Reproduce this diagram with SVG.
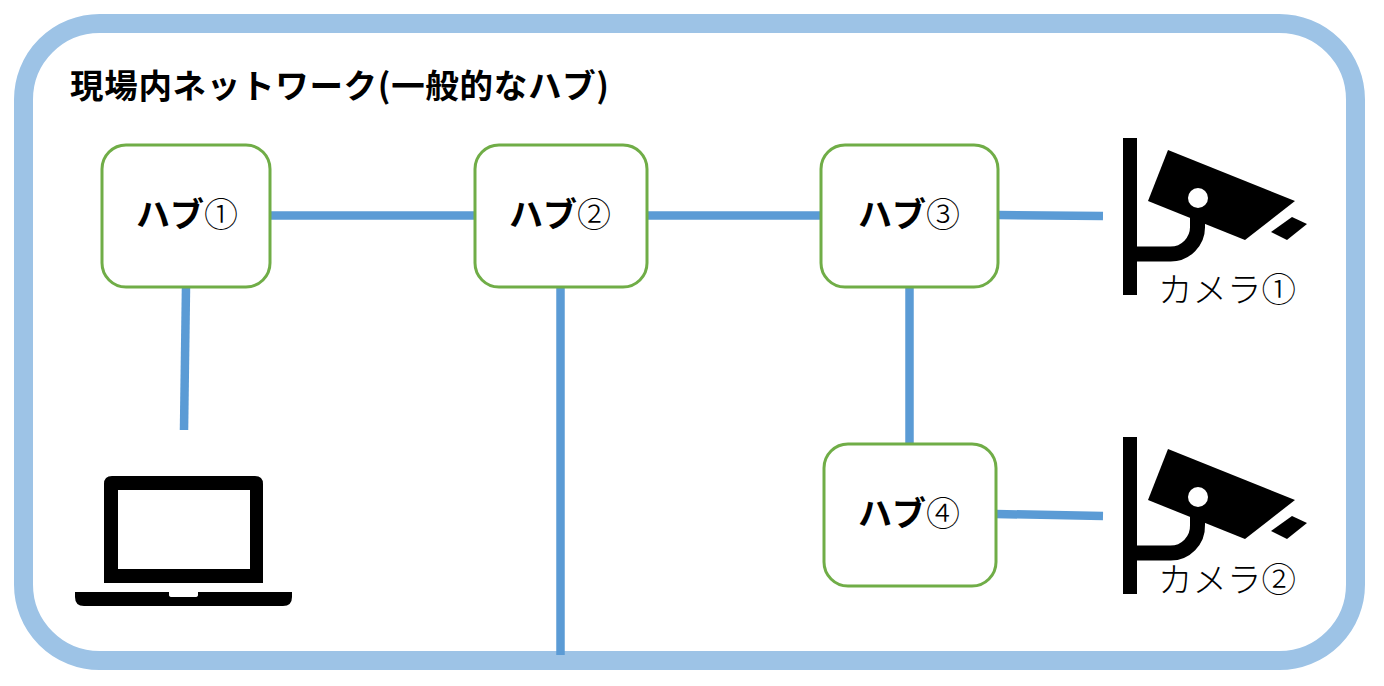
<svg xmlns="http://www.w3.org/2000/svg" width="1384" height="686" viewBox="0 0 1384 686">
<style>
text{font-family:"Noto Sans CJK JP","Noto Sans CJK SC",sans-serif;fill:#000}
.hub{fill:#fff;stroke:#70ad47;stroke-width:3}
.hl{font-size:34px;font-weight:700;text-anchor:middle}
.hl tspan{font-weight:300}
.lk{stroke:#5b9bd5;stroke-width:8.500;fill:none}
.cl{font-size:34.500px;font-weight:300;text-anchor:middle}
</style>
<defs>
<g id="cam">
<rect x="1123" y="138" width="14" height="157"/>
<path d="M1168 150L1295 201L1245 240L1148 201Z"/>
<path d="M1130 254H1170A27 27 0 0 0 1197.500 226V215" fill="none" stroke="#000" stroke-width="15"/>
<path d="M1292 217L1307 224L1287 240L1271 232Z"/>
<circle cx="1198" cy="198" r="10" fill="#fff"/>
</g>
</defs>
<rect width="1384" height="686" fill="#fff"/>
<rect id="frame" x="23.500" y="23.500" width="1332" height="637" rx="76" fill="#fff" stroke="#9dc3e6" stroke-width="19"/>
<rect x="300" y="651" width="990" height="2" fill="#9dc3e6"/>
<text x="70" y="98" font-size="33.500" font-weight="700" textLength="539" lengthAdjust="spacing">現場内ネットワーク(一般的なハブ)</text>
<g id="connectors">
<path class="lk" d="M270 215.500H475"/>
<path class="lk" d="M647 215.500H821"/>
<path class="lk" d="M998 215L1103 216"/>
<path class="lk" d="M186 287L184 430"/>
<path class="lk" d="M560.500 287V655"/>
<path class="lk" d="M909.500 287V444"/>
<path class="lk" d="M996 514L1103 516"/>
</g>
<g id="hub1"><rect class="hub" x="102" y="145" width="168" height="142" rx="24"/><text class="hl" x="187" y="227">ハブ<tspan>①</tspan></text></g>
<g id="hub2"><rect class="hub" x="475" y="145" width="172" height="142" rx="24"/><text class="hl" x="560" y="227">ハブ<tspan>②</tspan></text></g>
<g id="hub3"><rect class="hub" x="821" y="145" width="177" height="142" rx="24"/><text class="hl" x="909" y="227">ハブ<tspan>③</tspan></text></g>
<g id="hub4"><rect class="hub" x="824" y="444" width="172" height="142" rx="24"/><text class="hl" x="909" y="526">ハブ<tspan>④</tspan></text></g>
<g id="camera1"><use href="#cam"/><text class="cl" x="1227" y="302">カメラ①</text></g>
<g id="camera2"><use href="#cam" y="299"/><text class="cl" x="1227" y="592">カメラ②</text></g>
<g id="laptop">
<path fill-rule="evenodd" d="M112 476H255Q263 476 263 484V583H104V484Q104 476 112 476ZM118 490V569H250V490Z"/>
<path d="M75 592H169V595Q169 597 172 597H195Q198 597 198 595V592H292V597Q292 606 283 606H84Q75 606 75 597Z"/>
</g>
</svg>
